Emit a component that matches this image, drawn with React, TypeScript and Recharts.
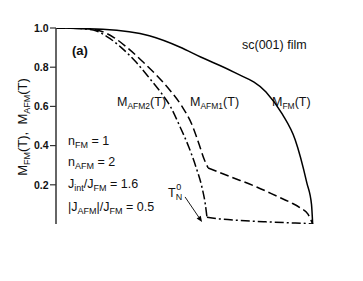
import React from 'react';
import { LineChart, Line, XAxis, YAxis, ReferenceLine } from 'recharts';

// FM magnetization
const fmT = [0, 2, 4, 5.3, 6.2, 7.6, 9.0, 9.7, 10.25, 10.75, 10.95, 11.0];
const fmM = [1.0, 0.993, 0.96, 0.903, 0.852, 0.776, 0.673, 0.56, 0.43, 0.21, 0.1, 0];

// AFM1 (dashed) - before and after the kink
const afm1T = [0, 1.2, 1.9, 2.5, 3.1, 3.7, 4.3, 4.9, 5.4, 5.85, 6.15, 6.35, 6.52];
const afm1M = [1.0, 0.997, 0.985, 0.95, 0.895, 0.83, 0.76, 0.68, 0.6, 0.5, 0.4, 0.33, 0.286];
const afm1TailT = [6.52, 7.5, 8.6, 9.5, 10.05, 10.5, 10.8, 11.0];
const afm1TailM = [0.286, 0.24, 0.189, 0.14, 0.11, 0.08, 0.05, 0];

// AFM2 (dash-dot) - before and after T_N^0
const afm2T = [0, 1.0, 1.6, 2.2, 2.8, 3.4, 4.0, 4.5, 4.9, 5.3, 5.7, 6.0, 6.25, 6.4, 6.47];
const afm2M = [1.0, 0.997, 0.99, 0.955, 0.9, 0.83, 0.745, 0.67, 0.6, 0.5, 0.39, 0.29, 0.19, 0.1, 0.035];
const afm2TailT = [6.47, 7.0, 7.9, 9.0, 10.0, 10.7, 11.0];
const afm2TailM = [0.035, 0.026, 0.018, 0.011, 0.006, 0.003, 0];

const xTicks = [0, 1, 2, 3, 4, 5, 6, 7, 8, 9, 10, 11, 12];
const yTicks = [0, 0.1, 0.2, 0.3, 0.4, 0.5, 0.6, 0.7, 0.8, 0.9, 1.0];
const yLabels = ['0.2', '0.4', '0.6', '0.8', '1.0'];

// arrow annotation for T_N^0 (data coordinates)
const arrowFrom = { x: 5.53, y: 0.138 };
const arrowTo = { x: 6.26, y: 0.01 };

const toData = (t: number[], m: number[]) => t.map((v, i) => ({ t: v, m: m[i] }));

const FONT = 'Liberation Sans, Arial, Helvetica, sans-serif';
const AX = '#333';

const isMajor = (v: number) => Math.abs(Math.round(v * 10) % 2) === 0;

const LeftTick = (props: any) => {
  const { x, y, payload } = props;
  const v = payload.value as number;
  if (v <= 0.001) return <g />;
  const major = isMajor(v);
  const lbl = v.toFixed(1);
  return (
    <g>
      <line x1={x - (major ? 6 : 3)} y1={y} x2={x} y2={y} stroke={AX} strokeWidth={1.2} />
      {major && yLabels.includes(lbl) ? (
        <text x={x - 7.5} y={y + 3.8} textAnchor="end" fontFamily={FONT} fontWeight="bold" fontSize={10.5} fill="#111">
          {lbl}
        </text>
      ) : null}
    </g>
  );
};

const RightTick = (props: any) => {
  const { x, y, payload } = props;
  const v = payload.value as number;
  if (v <= 0.001 || v >= 0.999) return <g />;
  const major = isMajor(v);
  return <line x1={x} y1={y} x2={x - (major ? 5 : 3)} y2={y} stroke={AX} strokeWidth={1.2} />;
};

const BottomTick = (props: any) => {
  const { x, y, payload } = props;
  const v = payload.value as number;
  if (v === 0 || v === 12) return <g />;
  return <line x1={x} y1={y} x2={x} y2={y - 4} stroke={AX} strokeWidth={1.2} />;
};

const TopTick = (props: any) => {
  const { x, y, payload } = props;
  const v = payload.value as number;
  if (v === 0 || v === 12) return <g />;
  return <line x1={x} y1={y} x2={x} y2={y + 4} stroke={AX} strokeWidth={1.2} />;
};

const ArrowShape = (props: any) => {
  const { x1, y1, x2, y2 } = props;
  if ([x1, y1, x2, y2].some((v) => typeof v !== 'number' || isNaN(v))) return <g />;
  const ang = Math.atan2(y2 - y1, x2 - x1);
  const L = 6;
  const W = 2.5;
  const bx = x2 - L * Math.cos(ang);
  const by = y2 - L * Math.sin(ang);
  const px = -Math.sin(ang) * W;
  const py = Math.cos(ang) * W;
  return (
    <g>
      <line x1={x1} y1={y1} x2={bx} y2={by} stroke="#000" strokeWidth={0.9} />
      <polygon points={`${x2},${y2} ${bx + px},${by + py} ${bx - px},${by - py}`} fill="#000" />
    </g>
  );
};

type Part = { t: string; sub?: boolean };

const Rich = ({ parts, x, y, size = 12.5, subSize = 9, transform, anchor, weight }: any) => (
  <text
    x={x}
    y={y}
    fontSize={size}
    transform={transform}
    textAnchor={anchor}
    fontWeight={weight}
    fontFamily={FONT}
    fill="#111"
  >
    {(parts as Part[]).map((p, i) => {
      const prevSub = i > 0 && (parts as Part[])[i - 1].sub;
      if (p.sub) {
        return (
          <tspan key={i} dy={3} fontSize={subSize}>
            {p.t}
          </tspan>
        );
      }
      return (
        <tspan key={i} dy={prevSub ? -3 : 0}>
          {p.t}
        </tspan>
      );
    })}
  </text>
);

export default function App() {
  const lineCommon = {
    dataKey: 'm',
    stroke: '#000',
    dot: false,
    activeDot: false,
    isAnimationActive: false,
    strokeWidth: 1.5,
  } as const;
  return (
    <LineChart width={355} height={265} margin={{ top: 20, right: 27, bottom: 49, left: 0 }}>
      <XAxis
        xAxisId="b"
        type="number"
        dataKey="t"
        domain={[0, 12]}
        ticks={xTicks}
        height={0}
        tickSize={0}
        tickMargin={0}
        tick={<BottomTick />}
        stroke={AX}
        strokeWidth={1.5}
        allowDataOverflow
      />
      <XAxis
        xAxisId="top"
        orientation="top"
        type="number"
        dataKey="t"
        domain={[0, 12]}
        ticks={xTicks}
        height={0}
        tickSize={0}
        tickMargin={0}
        tick={<TopTick />}
        stroke={AX}
        strokeWidth={1.5}
        allowDataOverflow
      />
      <YAxis
        yAxisId="l"
        type="number"
        domain={[0, 1]}
        ticks={yTicks}
        width={48}
        tickSize={0}
        tickMargin={0}
        tick={<LeftTick />}
        stroke={AX}
        strokeWidth={1.5}
        allowDataOverflow
      />
      <YAxis
        yAxisId="r"
        orientation="right"
        type="number"
        domain={[0, 1]}
        ticks={yTicks}
        width={0}
        tickSize={0}
        tickMargin={0}
        tick={<RightTick />}
        stroke={AX}
        strokeWidth={1.5}
        allowDataOverflow
      />
      <Line {...lineCommon} xAxisId="b" yAxisId="l" type="monotone" data={toData(fmT, fmM)} />
      <Line {...lineCommon} xAxisId="b" yAxisId="l" type="monotone" data={toData(afm1T, afm1M)} strokeDasharray="9 4" />
      <Line {...lineCommon} xAxisId="b" yAxisId="l" type="monotone" data={toData(afm1TailT, afm1TailM)} strokeDasharray="9 4" />
      <Line {...lineCommon} xAxisId="b" yAxisId="l" type="monotone" data={toData(afm2T, afm2M)} strokeDasharray="9 3 2 3" />
      <Line {...lineCommon} xAxisId="b" yAxisId="l" type="monotone" data={toData(afm2TailT, afm2TailM)} strokeDasharray="9 3 2 3" />
      <ReferenceLine
        xAxisId="b"
        yAxisId="l"
        segment={[arrowFrom, arrowTo]}
        shape={<ArrowShape />}
        ifOverflow="visible"
      />
      <g>
        <Rich
          x={19}
          y={119}
          size={13}
          anchor="middle"
          transform="rotate(-90, 19, 119)"
          parts={[{ t: 'M' }, { t: 'FM', sub: true }, { t: '(T),\u00a0\u00a0M' }, { t: 'AFM', sub: true }, { t: '(T)' }]}
        />
        <Rich x={64} y={47} size={13} weight="bold" parts={[{ t: '(a)' }]} />
        <Rich x={234} y={41} size={12.5} parts={[{ t: 'sc(001) film' }]} />
        <Rich x={109} y={98} subSize={8.5} parts={[{ t: 'M' }, { t: 'AFM2', sub: true }, { t: '(T)' }]} />
        <Rich x={182} y={98} subSize={8.5} parts={[{ t: 'M' }, { t: 'AFM1', sub: true }, { t: '(T)' }]} />
        <Rich x={264} y={98} subSize={8.5} parts={[{ t: 'M' }, { t: 'FM', sub: true }, { t: '(T)' }]} />
        <Rich x={60} y={137} parts={[{ t: 'n' }, { t: 'FM', sub: true }, { t: '\u00a0= 1' }]} />
        <Rich x={60} y={158} parts={[{ t: 'n' }, { t: 'AFM', sub: true }, { t: '\u00a0= 2' }]} />
        <Rich
          x={60}
          y={180}
          parts={[{ t: 'J' }, { t: 'int', sub: true }, { t: '/J' }, { t: 'FM', sub: true }, { t: '\u00a0= 1.6' }]}
        />
        <Rich
          x={60}
          y={203}
          parts={[{ t: '|J' }, { t: 'AFM', sub: true }, { t: '|/J' }, { t: 'FM', sub: true }, { t: '\u00a0= 0.5' }]}
        />
        <text x={160} y={189} fontSize={12.5} fontFamily={FONT} fill="#111">
          <tspan>T</tspan>
          <tspan dy={3} fontSize={9}>N</tspan>
          <tspan dx={-6} dy={-10} fontSize={9}>0</tspan>
        </text>
      </g>
    </LineChart>
  );
}
